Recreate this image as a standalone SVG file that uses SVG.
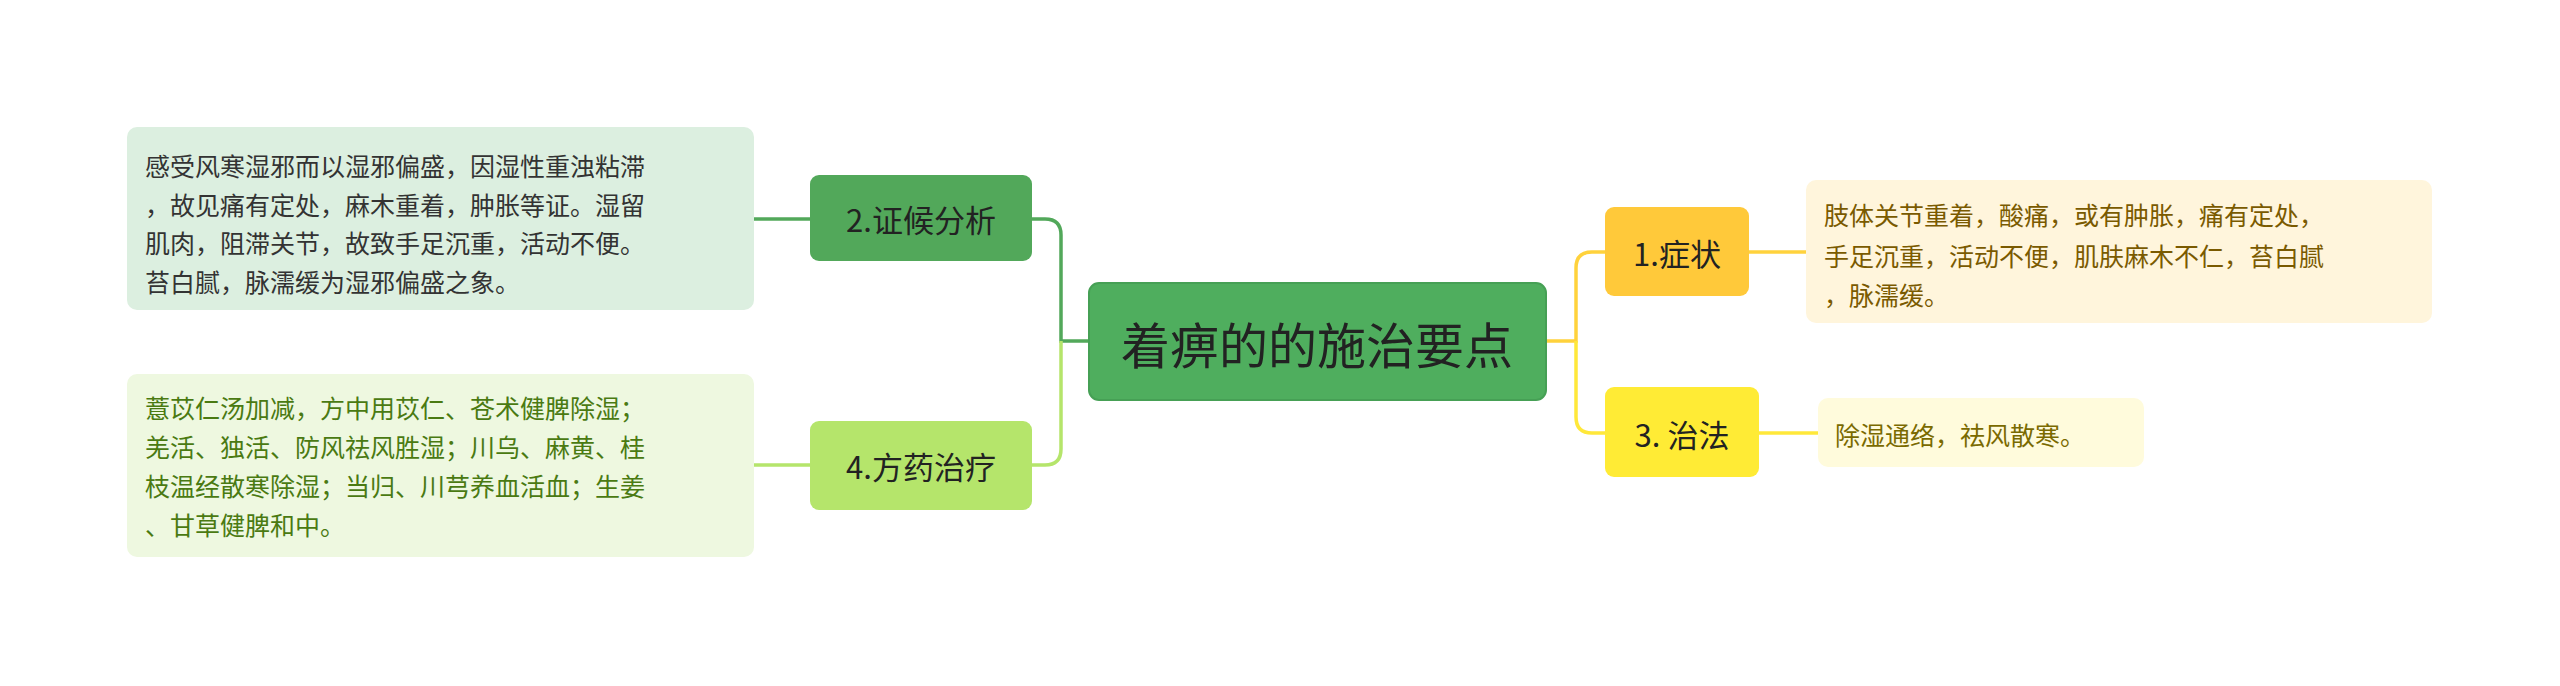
<svg xmlns="http://www.w3.org/2000/svg" width="2560" height="686" viewBox="0 0 2560 686">
<style>
text{font-family:"Noto Sans CJK SC","Noto Sans",sans-serif;dominant-baseline:central}
.t{font-size:25px}
.m{font-size:31px;fill:#222}
.c{fill:none;stroke-width:3.5}
</style>
<rect width="2560" height="686" fill="#fff"/>
<g id="connectors">
<path class="c" stroke="#ffd23c" d="M1546 341H1576V268Q1576 252 1592 252H1605"/>
<path class="c" stroke="#ffe83a" d="M1576 341V417Q1576 433 1592 433H1605"/>
<path class="c" stroke="#ffd23c" d="M1749 252H1806"/>
<path class="c" stroke="#ffe83a" d="M1759 433H1818"/>
<path class="c" stroke="#52a85a" d="M1089 341H1061V235Q1061 219 1045 219H1032"/>
<path class="c" stroke="#b5e56b" d="M1061 341V449Q1061 465 1045 465H1032"/>
<path class="c" stroke="#52a85a" d="M810 219H754"/>
<path class="c" stroke="#b5e56b" d="M810 465H754"/>
</g>
<g id="root"><rect x="1089" y="283" width="457" height="117" rx="10" fill="#4fae5e" stroke="#46a055" stroke-width="2"/><text x="1317" y="342" text-anchor="middle" font-size="49" fill="#222">着痹的的施治要点</text></g>
<g id="n2"><rect x="810" y="175" width="222" height="86" rx="9" fill="#52a85a"/><text class="m" x="921" y="218" text-anchor="middle">2.证候分析</text></g>
<g id="n4"><rect x="810" y="421" width="222" height="89" rx="9" fill="#b5e56b"/><text class="m" x="921" y="465" text-anchor="middle">4.方药治疗</text></g>
<g id="n1"><rect x="1605" y="207" width="144" height="89" rx="9" fill="#ffc93a"/><text class="m" x="1677" y="252" text-anchor="middle">1.症状</text></g>
<g id="n3"><rect x="1605" y="387" width="154" height="90" rx="9" fill="#ffeb35"/><text class="m" x="1682" y="433" text-anchor="middle">3. 治法</text></g>
<g id="d2"><rect x="127" y="127" width="627" height="183" rx="10" fill="#dcefe0"/>
<text class="t" fill="#333"><tspan x="145" y="165">感受风寒湿邪而以湿邪偏盛，因湿性重浊粘滞</tspan><tspan x="145" y="204">，故见痛有定处，麻木重着，肿胀等证。湿留</tspan><tspan x="145" y="242">肌肉，阻滞关节，故致手足沉重，活动不便。</tspan><tspan x="145" y="281">苔白腻，脉濡缓为湿邪偏盛之象。</tspan></text></g>
<g id="d4"><rect x="127" y="374" width="627" height="183" rx="10" fill="#eef8e0"/>
<text class="t" fill="#4a7a12"><tspan x="145" y="407">薏苡仁汤加减，方中用苡仁、苍术健脾除湿；</tspan><tspan x="145" y="446">羌活、独活、防风祛风胜湿；川乌、麻黄、桂</tspan><tspan x="145" y="485">枝温经散寒除湿；当归、川芎养血活血；生姜</tspan><tspan x="145" y="524">、甘草健脾和中。</tspan></text></g>
<g id="d1"><rect x="1806" y="180" width="626" height="143" rx="10" fill="#fff5dc"/>
<text class="t" fill="#7a5a00"><tspan x="1824" y="214">肢体关节重着，酸痛，或有肿胀，痛有定处，</tspan><tspan x="1824" y="255">手足沉重，活动不便，肌肤麻木不仁，苔白腻</tspan><tspan x="1824" y="294">，脉濡缓。</tspan></text></g>
<g id="d3"><rect x="1818" y="398" width="326" height="69" rx="10" fill="#fffbdc"/>
<text class="t" fill="#7a6a00" x="1835" y="434">除湿通络，祛风散寒。</text></g>
</svg>
